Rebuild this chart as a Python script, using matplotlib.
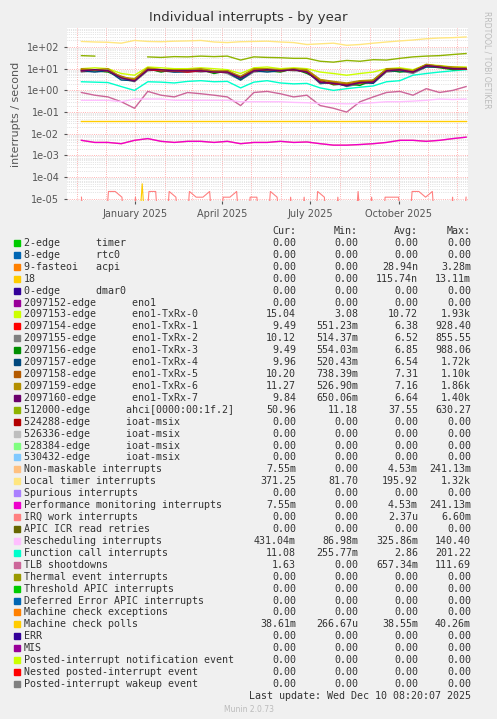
import numpy as np
import pandas as pd
import matplotlib
matplotlib.use('Agg')
import matplotlib.pyplot as plt
import matplotlib.dates as mdates

# fechas (cada ~2 semanas)
fechas = pd.date_range('2024-11-06', '2025-12-10', periods=30)
fechas_sem = pd.date_range('2024-11-06', '2025-12-10', periods=58)

local_timer = [180, 170, 165, 150, 200, 180, 175, 185, 190, 200, 170, 160, 175, 180, 185,
               170, 160, 130, 140, 150, 120, 130, 150, 170, 190, 210, 240, 260, 270, 290]
ahci = [40, 38, np.nan, np.nan, np.nan, 35, 33, 36, 35, 38, 36, 38, 25, 35, 33,
        32, 30, 30, 22, 20, 24, 22, 26, 25, 30, 35, 38, 40, 45, 50]
tx0 = [10, 11, 10, 6, 5, 12, 11, 10, 10, 11, 10, 9, 6, 11, 12, 10, 11, 10, 7, 6, 5, 6, 7, 10, 11, 9, 15, 14, 12, 12]
tx1 = [8, 9, 8, 4, 3, 9, 8, 8, 7, 8, 7, 7, 4, 8, 9, 8, 9, 7, 2.5, 2, 1.8, 2.2, 2.5, 8, 9, 7, 14, 12, 10, 9.5]
tx2 = [7, 8, 9, 3.5, 2.5, 8, 9, 7, 8, 7, 8, 6, 3, 7, 8, 9, 8, 8, 2, 2.5, 1.5, 2, 2.2, 7, 8, 6, 12, 13, 11, 10]
tx3 = [9, 8, 7, 4, 3, 10, 7, 9, 8, 9, 6, 8, 3.5, 9, 8, 7, 10, 6, 3, 1.8, 2, 1.7, 3, 9, 7, 8, 13, 11, 9, 9.5]
tx4 = [8, 7, 8, 3, 2.8, 9, 8, 7, 7, 8, 8, 7, 3, 8, 7, 8, 9, 7, 2.2, 2.2, 1.6, 2.4, 2.1, 8, 8, 7, 12, 12, 10, 10]
tx5 = [9, 9, 8, 4.5, 3, 10, 9, 8, 8, 9, 7, 8, 4, 9, 9, 8, 9, 8, 3, 2.4, 2, 2.6, 2.7, 9, 9, 8, 15, 13, 11, 10]
tx6 = [10, 9, 10, 4, 3.5, 11, 9, 9, 9, 10, 8, 8, 4.5, 10, 10, 9, 10, 9, 3.2, 2.6, 2.2, 2.8, 3, 10, 10, 8, 16, 13, 12, 11]
tx7 = [8, 9, 8, 3.8, 2.7, 9, 9, 8, 8, 8, 7, 7, 3.8, 8, 9, 8, 9, 7, 2.4, 2.1, 1.7, 2.3, 2.4, 8, 9, 7, 14, 12, 10, 9.8]
func_call = [2.5, 2.4, 2.3, 1.5, 1.0, 2.5, 2.4, 2.2, 2.6, 2.8, 2.5, 2.6, 1.3, 2.4, 2.8,
             2.2, 2.0, 2.1, 1.3, 1.0, 1.2, 1.4, 1.6, 2.5, 2.8, 5, 6, 7, 8, 9]
tlb = [0.8, 0.6, 0.5, 0.3, 0.15, 0.9, 0.6, 0.5, 0.8, 0.7, 0.6, 0.5, 0.2, 0.8, 0.9,
       0.7, 0.5, 0.6, 0.2, 0.15, 0.1, 0.3, 0.5, 0.8, 0.9, 0.6, 1.2, 0.8, 1.0, 1.5]
resched = [.35, .35, .35, .3, .4, .4, .4, .35, .35, .35, .35, .35, .3, .3, .3,
           .3, .28, .27, .25, .25, .24, .25, .27, .3, .3, .32, .35, .4, .38, .4]
mc_polls = [0.0386, 0.0386, 0.0386, 0.0386, 0.0386, 0.0386, 0.0386, 0.0386, 0.0386, 0.0386,
            0.0386, 0.0386, 0.0386, 0.0386, 0.0386, 0.0386, 0.0386, 0.0386, 0.0386, 0.0386,
            0.0386, 0.0386, 0.0386, 0.0386, 0.0386, 0.0386, 0.0386, 0.0386, 0.0386, 0.0386]
perf = [.005, .004, .004, .0035, .005, .006, .0045, .004, .0045, .0045, .004, .0045, .0035, .004, .004,
        .0045, .004, .0042, .0035, .003, .003, .0032, .0035, .004, .005, .005, .0045, .005, .006, .007]
irq_work = [1.2e-5, 0, 0, 0, 2.2e-5, 2.2e-5, 1.2e-5, 0, 1.2e-5, 0, 2.2e-5, 2.2e-5, 0, 2.2e-5, 1.2e-5,
            0, 2.2e-5, 1.2e-5, 1.2e-5, 2.2e-5, 0, 1.2e-5, 1.2e-5, 2.2e-5, 0, 1.2e-5, 1.2e-5, 0, 2.2e-5, 1.2e-5,
            0, 1.2e-5, 0, 1.2e-5, 0, 2.2e-5, 1.2e-5, 0, 1.2e-5, 0, 0, 2.2e-5, 0, 1.2e-5, 0,
            1.2e-5, 1.2e-5, 1.2e-5, 0, 2.2e-5, 2.2e-5, 1.2e-5, 2.2e-5, 0, 0, 1.2e-5, 0, 1.2e-5]
irq18 = [0, 0, 0, 0, 0, 0, 0, 0, 0, 5e-5, 0, 0, 0, 0, 0, 0, 0, 0, 0, 0, 0, 0, 0, 0, 0, 0, 0, 0, 0,
         0, 0, 0, 0, 0, 0, 0, 0, 0, 0, 0, 0, 0, 0, 0, 0, 0, 0, 0, 0, 0, 0, 0, 0, 0, 0, 0, 0, 0]

# leyenda: nombre, color, cur, min, avg, max
leyenda = [
    ("2-edge      timer", "#00CC00", "0.00", "0.00", "0.00", "0.00"),
    ("8-edge      rtc0", "#0066B3", "0.00", "0.00", "0.00", "0.00"),
    ("9-fasteoi   acpi", "#FF8000", "0.00", "0.00", "28.94n", "3.28m"),
    ("18", "#FFCC00", "0.00", "0.00", "115.74n", "13.11m"),
    ("0-edge      dmar0", "#330099", "0.00", "0.00", "0.00", "0.00"),
    ("2097152-edge      eno1", "#990099", "0.00", "0.00", "0.00", "0.00"),
    ("2097153-edge      eno1-TxRx-0", "#CCFF00", "15.04", "3.08", "10.72", "1.93k"),
    ("2097154-edge      eno1-TxRx-1", "#FF0000", "9.49", "551.23m", "6.38", "928.40"),
    ("2097155-edge      eno1-TxRx-2", "#808080", "10.12", "514.37m", "6.52", "855.55"),
    ("2097156-edge      eno1-TxRx-3", "#008F00", "9.49", "554.03m", "6.85", "988.06"),
    ("2097157-edge      eno1-TxRx-4", "#00487D", "9.96", "520.43m", "6.54", "1.72k"),
    ("2097158-edge      eno1-TxRx-5", "#B35A00", "10.20", "738.39m", "7.31", "1.10k"),
    ("2097159-edge      eno1-TxRx-6", "#B38F00", "11.27", "526.90m", "7.16", "1.86k"),
    ("2097160-edge      eno1-TxRx-7", "#6B006B", "9.84", "650.06m", "6.64", "1.40k"),
    ("512000-edge      ahci[0000:00:1f.2]", "#8FB300", "50.96", "11.18", "37.55", "630.27"),
    ("524288-edge      ioat-msix", "#B30000", "0.00", "0.00", "0.00", "0.00"),
    ("526336-edge      ioat-msix", "#BEBEBE", "0.00", "0.00", "0.00", "0.00"),
    ("528384-edge      ioat-msix", "#80FF80", "0.00", "0.00", "0.00", "0.00"),
    ("530432-edge      ioat-msix", "#80C9FF", "0.00", "0.00", "0.00", "0.00"),
    ("Non-maskable interrupts", "#FFC080", "7.55m", "0.00", "4.53m", "241.13m"),
    ("Local timer interrupts", "#FFE680", "371.25", "81.70", "195.92", "1.32k"),
    ("Spurious interrupts", "#AA80FF", "0.00", "0.00", "0.00", "0.00"),
    ("Performance monitoring interrupts", "#EE00CC", "7.55m", "0.00", "4.53m", "241.13m"),
    ("IRQ work interrupts", "#FF8080", "0.00", "0.00", "2.37u", "6.60m"),
    ("APIC ICR read retries", "#666600", "0.00", "0.00", "0.00", "0.00"),
    ("Rescheduling interrupts", "#FFBFFF", "431.04m", "86.98m", "325.86m", "140.40"),
    ("Function call interrupts", "#00FFCC", "11.08", "255.77m", "2.86", "201.22"),
    ("TLB shootdowns", "#CC6699", "1.63", "0.00", "657.34m", "111.69"),
    ("Thermal event interrupts", "#999900", "0.00", "0.00", "0.00", "0.00"),
    ("Threshold APIC interrupts", "#00CC00", "0.00", "0.00", "0.00", "0.00"),
    ("Deferred Error APIC interrupts", "#0066B3", "0.00", "0.00", "0.00", "0.00"),
    ("Machine check exceptions", "#FF8000", "0.00", "0.00", "0.00", "0.00"),
    ("Machine check polls", "#FFCC00", "38.61m", "266.67u", "38.55m", "40.26m"),
    ("ERR", "#330099", "0.00", "0.00", "0.00", "0.00"),
    ("MIS", "#990099", "0.00", "0.00", "0.00", "0.00"),
    ("Posted-interrupt notification event", "#CCFF00", "0.00", "0.00", "0.00", "0.00"),
    ("Nested posted-interrupt event", "#FF0000", "0.00", "0.00", "0.00", "0.00"),
    ("Posted-interrupt wakeup event", "#808080", "0.00", "0.00", "0.00", "0.00"),
]

def sin_ceros(v):
    v = np.array(v, dtype=float)
    return np.where(v > 0, v, 1e-9)

fig = plt.figure(figsize=(4.97, 7.19), dpi=100, facecolor='#F0F0F0')
ax = fig.add_axes([67 / 497, 1 - 201 / 719, 401 / 497, 173 / 719])
ax.set_facecolor('white')

ax.plot(fechas, local_timer, color='#FFE680', lw=1)
ax.plot(fechas, ahci, color='#8FB300', lw=1)
ax.plot(fechas, tx0, color='#CCFF00', lw=1)
ax.plot(fechas, func_call, color='#00FFCC', lw=1)
ax.plot(fechas, tlb, color='#CC6699', lw=1)
ax.plot(fechas, resched, color='#FFBFFF', lw=1)
for serie, c in [(tx2, '#808080'), (tx3, '#008F00'), (tx4, '#00487D'), (tx1, '#FF0000'),
                 (tx5, '#B35A00'), (tx6, '#B38F00'), (tx7, '#6B006B')]:
    ax.plot(fechas, serie, color=c, lw=1)
ax.plot(fechas, mc_polls, color='#FFCC00', lw=1)
ax.plot(fechas, perf, color='#FFC080', lw=1)
ax.plot(fechas, perf, color='#EE00CC', lw=1)
ax.plot(fechas_sem, sin_ceros(irq_work), color='#FF8080', lw=0.8)
ax.plot(fechas_sem, sin_ceros(irq18), color='#FFCC00', lw=0.8)

ax.set_yscale('log')
ax.set_ylim(8e-6, 7.5e2)
ax.set_xlim(pd.Timestamp('2024-10-22'), pd.Timestamp('2025-12-12'))
ax.xaxis.set_major_locator(mdates.MonthLocator(bymonth=[1, 4, 7, 10]))
ax.xaxis.set_major_formatter(mdates.DateFormatter('%B %Y'))
ax.xaxis.set_minor_locator(mdates.MonthLocator())
ax.set_yticks([1e2, 1e1, 1, 1e-1, 1e-2, 1e-3, 1e-4, 1e-5])
ax.set_yticklabels(['1e+02', '1e+01', '1e+00', '1e-01', '1e-02', '1e-03', '1e-04', '1e-05'])
ax.tick_params(labelsize=7, colors='#555555', length=2)
ax.tick_params(which='minor', length=0)
ax.grid(True, which='major', color='#FF9999', ls=':', lw=0.6)
ax.grid(True, which='minor', axis='y', color='#CCCCCC', ls=':', lw=0.5)
ax.grid(True, which='minor', axis='x', color='#FF9999', ls=':', lw=0.6)
for s in ax.spines.values():
    s.set_visible(False)
ax.set_ylabel('interrupts / second', fontsize=8, color='#555555')
fig.text(0.5, 1 - 17 / 719, 'Individual interrupts - by year', ha='center', va='center',
         fontsize=9.5, color='#333333')
fig.text(487 / 497, 1 - 60 / 719, 'RRDTOOL / TOBI OETIKER', rotation=270, ha='center', va='center',
         fontsize=5.5, color='#BBBBBB')

# tabla de leyenda
fuente = dict(family='DejaVu Sans Mono', fontsize=7.2, color='#333333', va='center')
y0 = 231
for x, t in [(296, 'Cur:'), (358, 'Min:'), (418, 'Avg:'), (471, 'Max:')]:
    fig.text(x / 497, 1 - y0 / 719, t, ha='right', **fuente)
for i, (nombre, col, cur, mn, avg, mx) in enumerate(leyenda):
    y = 1 - (y0 + 11.92 * (i + 1)) / 719
    fig.patches.append(plt.Rectangle((14 / 497, y - 3 / 719), 6 / 497, 6 / 719, color=col,
                                     transform=fig.transFigure, figure=fig))
    fig.text(24 / 497, y, nombre, ha='left', **fuente)
    for x, t in [(296, cur), (358, mn), (418, avg), (471, mx)]:
        fig.text(x / 497, y, t, ha='right', **fuente)
fig.text(471 / 497, 1 - 696 / 719, 'Last update: Wed Dec 10 08:20:07 2025', ha='right', **fuente)
fig.text(0.5, 1 - 709 / 719, 'Munin 2.0.73', ha='center', va='center', fontsize=5.5, color='#BBBBBB')

fig.savefig('out.png', dpi=100, facecolor=fig.get_facecolor())
